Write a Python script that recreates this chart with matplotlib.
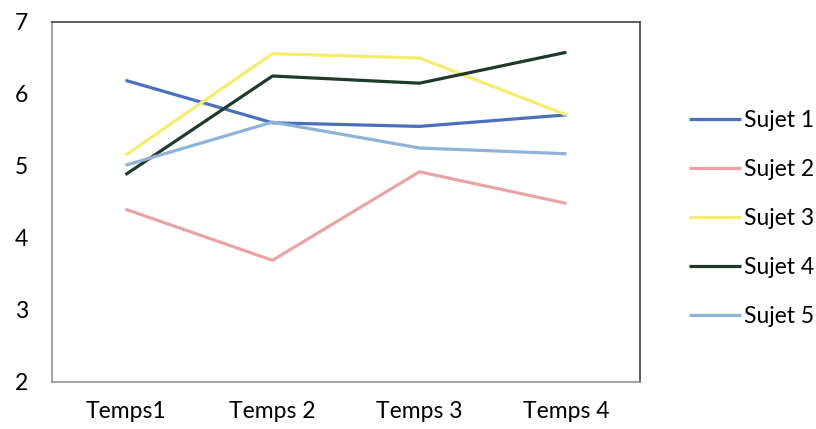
import numpy as np
import matplotlib.pyplot as plt

plt.rcParams['font.family'] = ['Lato', 'DejaVu Sans']

# donnees
temps = ["Temps1", "Temps 2", "Temps 3", "Temps 4"]
sujet1 = [6.19, 5.60, 5.55, 5.71]
sujet2 = [4.40, 3.69, 4.92, 4.48]
sujet3 = [5.15, 6.56, 6.50, 5.71]
sujet4 = [4.88, 6.25, 6.15, 6.58]
sujet5 = [5.01, 5.61, 5.25, 5.17]
noms = ["Sujet 1", "Sujet 2", "Sujet 3", "Sujet 4", "Sujet 5"]
couleurs = ["#4a6fc0", "#e9a3a6", "#f4ee6c", "#1e3a2b", "#8db3d8"]

fig = plt.figure(figsize=(8.16, 4.29), dpi=100)
ax = fig.add_axes([52/816, 47/429, 588/816, 360/429])

x = np.arange(len(temps))
for vals, nom, c in zip([sujet1, sujet2, sujet3, sujet4, sujet5], noms, couleurs):
    ax.plot(x, vals, color=c, lw=2.3, label=nom, solid_capstyle='butt')

ax.set_xlim(-0.5, len(temps) - 0.5)
ax.set_ylim(2, 7)
ax.set_yticks([2, 3, 4, 5, 6, 7])
ax.set_xticks(x)
ax.set_xticklabels(temps)
ax.tick_params(axis='y', length=0, pad=17, labelsize=16.5)
ax.tick_params(axis='x', length=0, pad=14, labelsize=16.5)
for s in ax.spines.values():
    s.set_color("#333333")
    s.set_linewidth(1.1)
ax.spines['left'].set_color("#888888")
ax.spines['bottom'].set_color("#888888")

fig.legend(loc='center left', bbox_to_anchor=(668/816, 0.49), frameon=False,
           fontsize=16.5, handlelength=2.3, handletextpad=0.1, labelspacing=1.22)

plt.savefig("out.png", dpi=100)
